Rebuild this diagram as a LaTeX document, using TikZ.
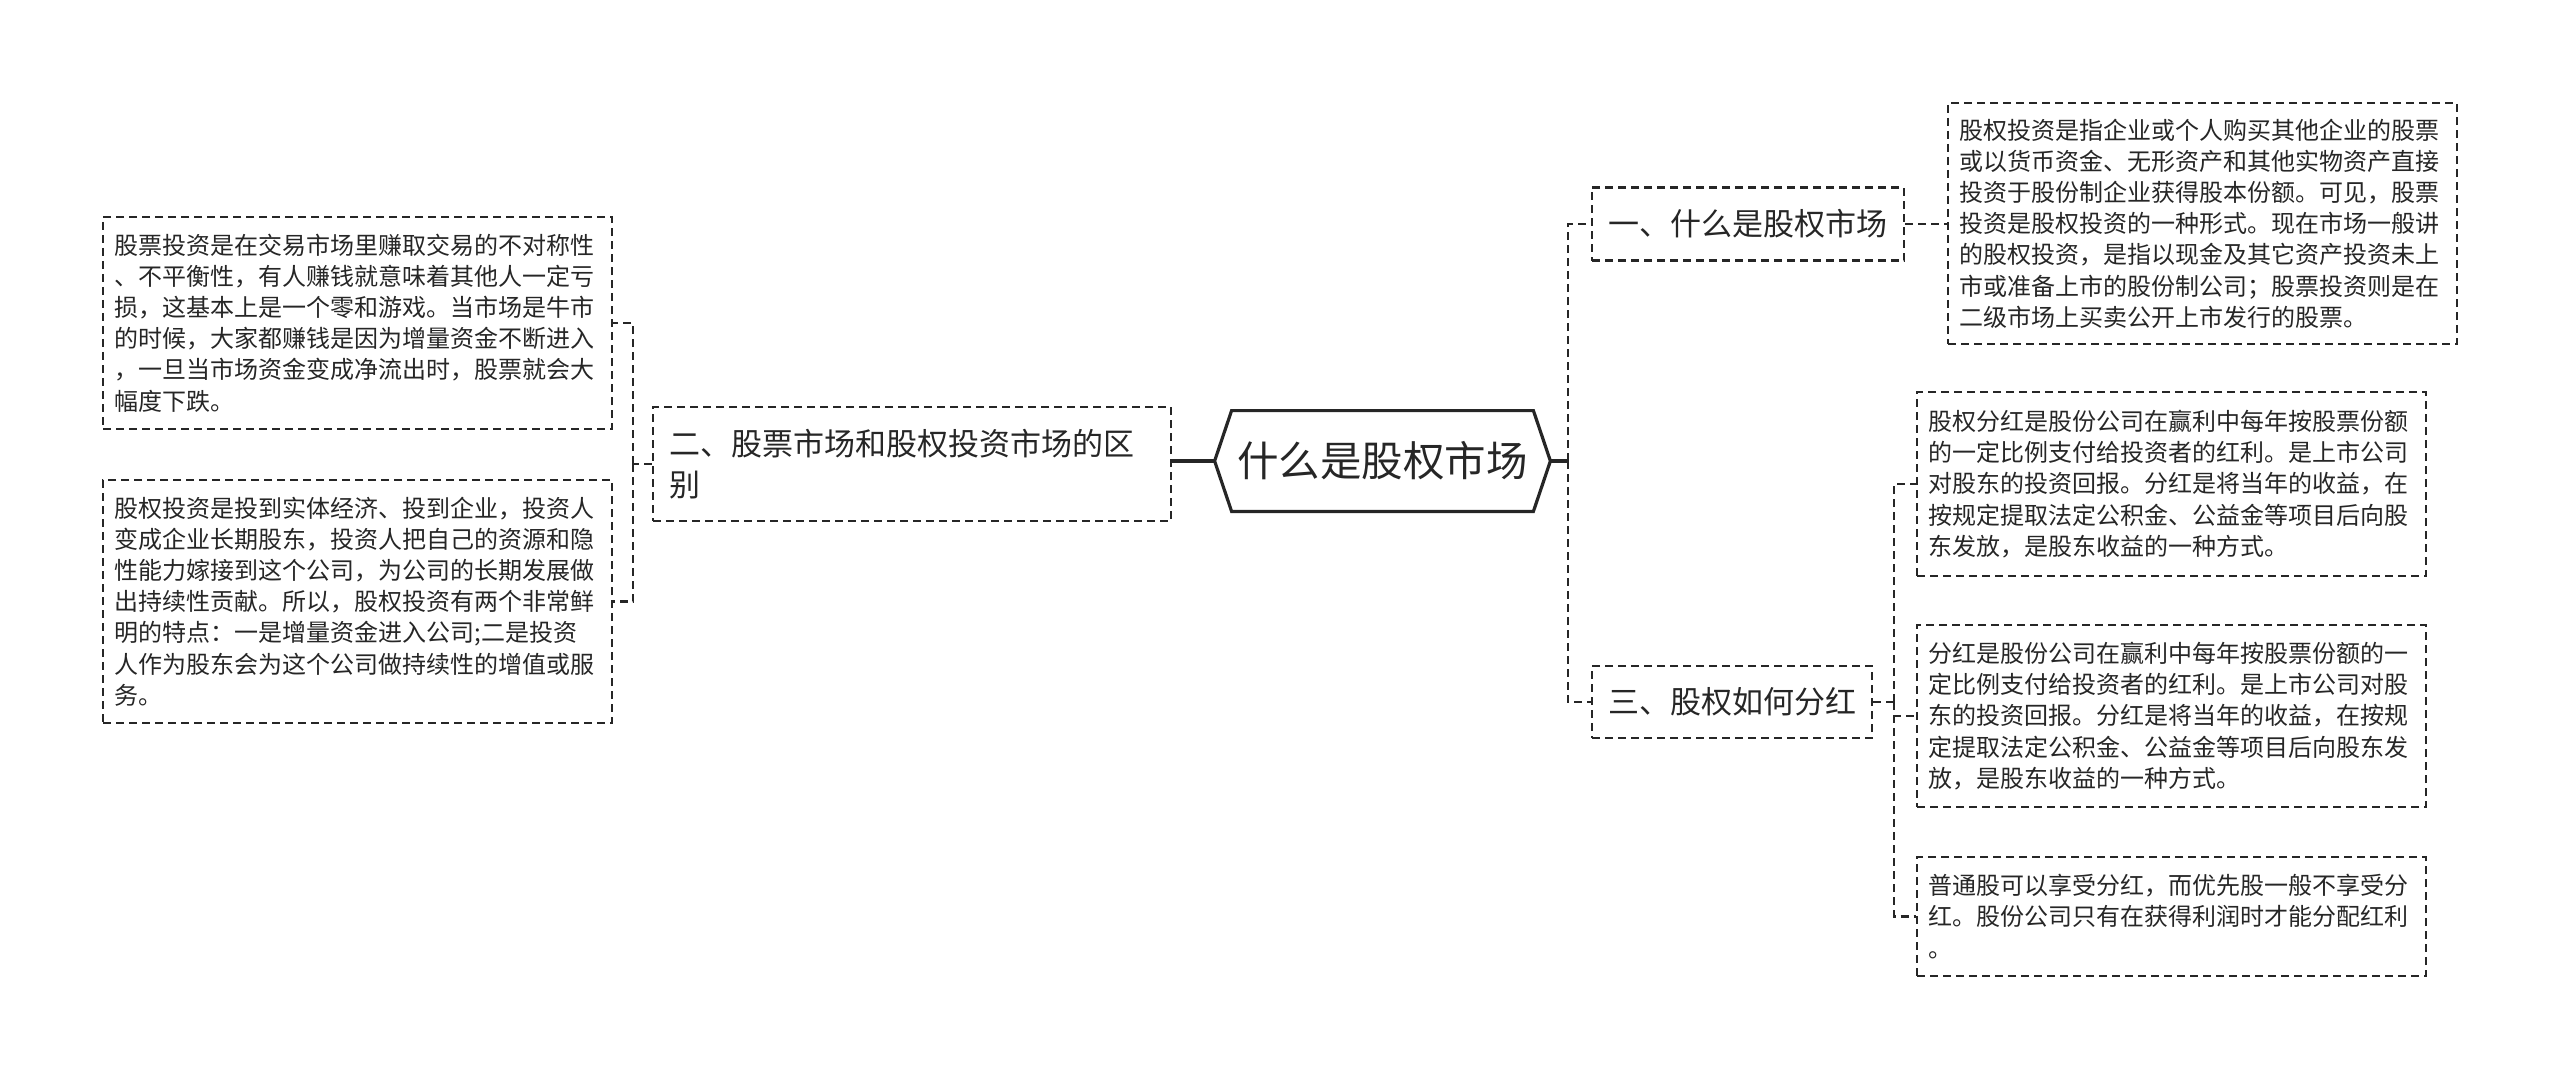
\documentclass[tikz,border=0pt]{standalone}
\usepackage{fontspec}
\setmainfont{Noto Sans CJK SC}
\definecolor{inkgray}{HTML}{262626}

\begin{document}
\begin{tikzpicture}[x=0.5pt, y=-0.5pt, color=inkgray,
    root/.style={minimum width=167.5pt, minimum height=50pt, inner sep=0pt, font=\fontsize{20.75pt}{25pt}\selectfont},
    branch/.style={draw, dash pattern=on 4pt off 2.5pt, line width=1.1pt, inner xsep=8pt, align=left, font=\fontsize{15.5pt}{20.5pt}\selectfont},
    leaf/.style={draw, dash pattern=on 4pt off 2.5pt, line width=1.1pt, text width=243pt, inner xsep=5.75pt, align=left, font=\fontsize{12pt}{15.6pt}\selectfont},
    link/.style={draw, dash pattern=on 4pt off 2.5pt, line width=1.1pt},
    trunk/.style={draw, line width=1.6pt}
]
\useasboundingbox (0,0) rectangle (2560,1081);

% Central topic (hexagon drawn round it)
\node[root] (Root) at (1382.5, 461) {什么是股权市场};
\draw[trunk] (Root.west) -- ([xshift=8.5pt]Root.north west) -- ([xshift=-8.5pt]Root.north east)
    -- (Root.east) -- ([xshift=-8.5pt]Root.south east) -- ([xshift=8.5pt]Root.south west) -- cycle;

% Main branches
\node[branch, minimum width=156pt, minimum height=36.5pt] (B1) at (1748, 224) {一、什么是股权市场};
\node[branch, text width=243pt, minimum height=57pt] (B2) at (912, 464) {二、股票市场和股权投资市场的区\\别};
\node[branch, minimum width=140pt, minimum height=36pt] (B3) at (1732, 702) {三、股权如何分红};

% Leaves of branch two (left side)
\node[leaf, minimum height=106pt] (L1) at (357.5, 323) {股票投资是在交易市场里赚取交易的不对称性\\
、不平衡性，有人赚钱就意味着其他人一定亏\\
损，这基本上是一个零和游戏。当市场是牛市\\
的时候，大家都赚钱是因为增量资金不断进入\\
，一旦当市场资金变成净流出时，股票就会大\\
幅度下跌。};
\node[leaf, minimum height=121.5pt] (L2) at (357.5, 601.5) {股权投资是投到实体经济、投到企业，投资人\\
变成企业长期股东，投资人把自己的资源和隐\\
性能力嫁接到这个公司，为公司的长期发展做\\
出持续性贡献。所以，股权投资有两个非常鲜\\
明的特点：一是增量资金进入公司;二是投资\\
人作为股东会为这个公司做持续性的增值或服\\
务。};

% Leaf of branch one
\node[leaf, minimum height=120.5pt] (R1) at (2202.5, 223.5) {股权投资是指企业或个人购买其他企业的股票\\
或以货币资金、无形资产和其他实物资产直接\\
投资于股份制企业获得股本份额。可见，股票\\
投资是股权投资的一种形式。现在市场一般讲\\
的股权投资，是指以现金及其它资产投资未上\\
市或准备上市的股份制公司；股票投资则是在\\
二级市场上买卖公开上市发行的股票。};

% Leaves of branch three
\node[leaf, minimum height=92pt] (R2) at (2171.5, 484) {股权分红是股份公司在赢利中每年按股票份额\\
的一定比例支付给投资者的红利。是上市公司\\
对股东的投资回报。分红是将当年的收益，在\\
按规定提取法定公积金、公益金等项目后向股\\
东发放，是股东收益的一种方式。};
\node[leaf, minimum height=91pt] (R3) at (2171.5, 716) {分红是股份公司在赢利中每年按股票份额的一\\
定比例支付给投资者的红利。是上市公司对股\\
东的投资回报。分红是将当年的收益，在按规\\
定提取法定公积金、公益金等项目后向股东发\\
放，是股东收益的一种方式。};
\node[leaf, minimum height=59.5pt] (R4) at (2171.5, 916.5) {普通股可以享受分红，而优先股一般不享受分\\
红。股份公司只有在获得利润时才能分配红利\\
。};

% Junctions
\coordinate (LJ) at (633, 464);
\coordinate (RJ) at (1568, 461);
\coordinate (TJ) at (1894, 702);

% Root to branches
\draw[trunk] (Root.west) -- (Root.west -| B2.east);
\draw[trunk] (Root.east) -- (RJ);
\draw[link] (RJ) |- (B1.west);
\draw[link] (RJ) |- (B3.west);

% Branch two to its leaves
\draw[link] (B2.west) -- (LJ);
\draw[link] (LJ) |- (L1.east);
\draw[link] (LJ) |- (L2.east);

% Branch one to its leaf
\draw[link] (B1.east) -- (B1.east -| R1.west);

% Branch three to its leaves
\draw[link] (B3.east) -- (TJ);
\draw[link] (TJ) |- (R2.west);
\draw[link] (TJ) |- (R3.west);
\draw[link] (TJ) |- (R4.west);

\end{tikzpicture}
\end{document}
